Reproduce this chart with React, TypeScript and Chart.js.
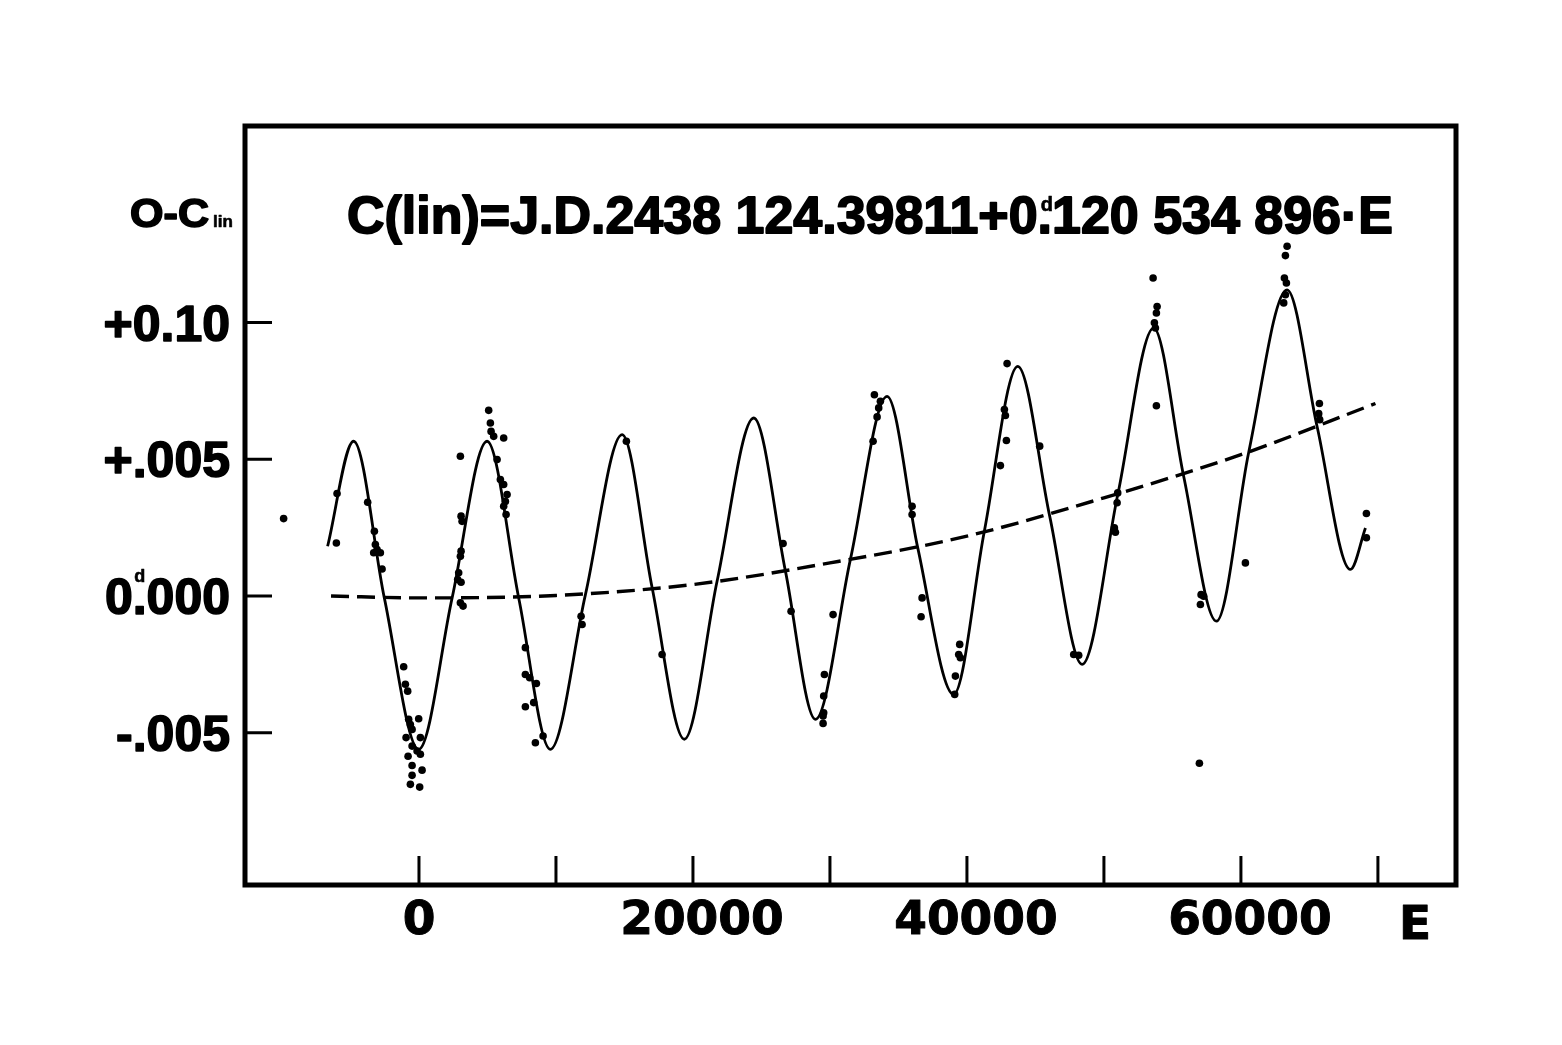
import { useEffect, useRef } from 'react';
import { Chart, registerables } from 'chart.js';

Chart.register(...registerables);

// ---- data ----
// fitted curve (solid): extrema and mean-line crossings
const fitE = [-6670, -4770, -2530, -20, 2420, 4970, 7280, 9590, 12150, 14830, 17020, 19370, 21760, 24440, 26750, 28940, 31490, 34170, 36410, 39030, 41270, 43710, 46040, 48410, 51010, 53630, 55820, 58210, 60570, 63370, 65560, 67990, 69090];
const fitOC = [0.00182, 0.00566, -0.00007, -0.00561, -0.00007, 0.00566, -0.00007, -0.00561, 0.00005, 0.0059, 0.0003, -0.00524, 0.00054, 0.00651, 0.00091, -0.00451, 0.00133, 0.0073, 0.00176, -0.0036, 0.00237, 0.0084, 0.00292, -0.0025, 0.00371, 0.0098, 0.00438, -0.00092, 0.00526, 0.0112, 0.0062, 0.00097, 0.00249];

// quadratic trend (dashed)
const trendE = [-6420, 0, 10000, 20000, 30000, 40000, 50000, 60000, 69820];
const trendOC = [0.0, -0.00007, 0.00002, 0.00042, 0.00121, 0.00219, 0.00359, 0.00517, 0.00704];

// observed O-C (dots)
const obsE = [-9880, -6030, -5980, -3745, -3256, -3183, -3059, -3307, -2818, -2694, -1117, -993, -825, -752, -628, -504, -22, -942, 102, -504, -139, 102, -796, -504, 226, -504, -628, 51, 3022, 3073, 3146, 3073, 3022, 2898, 2825, 3073, 3022, 3219, 5088, 5212, 5263, 5453, 6183, 5701, 5942, 6183, 6431, 6307, 6183, 6358, 7767, 7767, 8081, 8570, 8373, 7767, 9059, 8497, 11833, 11906, 15140, 17746, 26579, 27163, 30229, 29594, 29543, 29543, 29499, 29499, 33244, 33682, 33558, 33441, 33149, 35996, 35996, 36726, 36653, 39471, 39522, 39398, 39157, 39106, 42931, 42734, 42807, 42880, 42442, 45311, 47793, 48158, 53830, 51005, 50961, 50764, 50837, 53589, 53881, 53830, 53684, 53757, 63371, 63247, 63174, 63320, 63247, 63123, 65729, 65678, 65751, 57093, 57042, 57283, 60327, 69160, 69160, 56969];
const obsOC = [0.00283, 0.00194, 0.00375, 0.00343, 0.00237, 0.00188, 0.0017, 0.00158, 0.00158, 0.00099, -0.00259, -0.00323, -0.00348, -0.00451, -0.0047, -0.00488, -0.00449, -0.00518, -0.00518, -0.00549, -0.00567, -0.00579, -0.00586, -0.0062, -0.00637, -0.00656, -0.00689, -0.00699, 0.00511, 0.00292, 0.00273, 0.00164, 0.00145, 0.00085, 0.0006, 0.0005, -0.00025, -0.00037, 0.00679, 0.00633, 0.00602, 0.00584, 0.00578, 0.00499, 0.00426, 0.00408, 0.00371, 0.00346, 0.00328, 0.00298, -0.00189, -0.00287, -0.00299, -0.0032, -0.0039, -0.00405, -0.00512, -0.00537, -0.00074, -0.00104, 0.00566, -0.00214, 0.00192, -0.00056, -0.00068, -0.00287, -0.00366, -0.00427, -0.00439, -0.00466, 0.00736, 0.00712, 0.00688, 0.00655, 0.00566, 0.00328, 0.00298, -0.00007, -0.00076, -0.00177, -0.00226, -0.00214, -0.00293, -0.0036, 0.0085, 0.00682, 0.0066, 0.00569, 0.00477, 0.00548, -0.00214, -0.00217, 0.00696, 0.00377, 0.00341, 0.00249, 0.00233, 0.01163, 0.01059, 0.01035, 0.00999, 0.0098, 0.01279, 0.01245, 0.01163, 0.01145, 0.01102, 0.01072, 0.00704, 0.00667, 0.00645, 0.00005, -0.00031, -0.00001, 0.00121, 0.00302, 0.00213, -0.00612];

// axes
const xTickValues = [0, 10000, 20000, 30000, 40000, 50000, 60000, 70000];
const xLabeledValues = [0, 20000, 40000, 60000];
const yTickValues = [-0.005, 0, 0.005, 0.01];
const yTickLabels = ['-.005', '0.000', '+.005', '+0.10'];
const xAxisTitle = 'E';
const yAxisTitle = 'O-C';
const yAxisTitleSub = 'lin';
const titleBefore = 'C(lin)=J.D.2438 124.39811+0';
const titleAfter = '120 534 896·E';
const dayMark = 'd';

const toPoints = (xs: number[], ys: number[]) => xs.map((x, i) => ({ x, y: ys[i] }));

// heavy text: fill plus a thin outline to mimic the black print face
function heavyText(ctx: CanvasRenderingContext2D, s: string, x: number, y: number, w: number) {
  ctx.fillText(s, x, y);
  if (w > 0) {
    ctx.lineWidth = w;
    ctx.lineJoin = 'round';
    ctx.strokeText(s, x, y);
  }
}

const framePlugin = {
  id: 'frameAndText',
  afterDraw(chart: any) {
    const { ctx, chartArea: a, scales } = chart;
    const xs = scales.x;
    const ys = scales.y;
    ctx.save();
    ctx.strokeStyle = '#000';
    ctx.fillStyle = '#000';
    // frame
    ctx.lineWidth = 5;
    ctx.strokeRect(a.left, a.top, a.right - a.left, a.bottom - a.top);
    // inner tick marks
    ctx.lineWidth = 3;
    ctx.beginPath();
    for (const v of xTickValues) {
      const px = xs.getPixelForValue(v);
      ctx.moveTo(px, a.bottom);
      ctx.lineTo(px, a.bottom - 29);
    }
    for (const v of yTickValues) {
      const py = ys.getPixelForValue(v);
      ctx.moveTo(a.left, py);
      ctx.lineTo(a.left + 27, py);
    }
    ctx.stroke();

    // x tick labels
    ctx.font = 'bold 47px "DejaVu Sans"';
    ctx.textAlign = 'center';
    ctx.textBaseline = 'alphabetic';
    for (const v of xLabeledValues) {
      const s = String(v);
      const shift = s.length > 1 ? 9 : 0;
      heavyText(ctx, s, xs.getPixelForValue(v) + shift, a.bottom + 49, 1);
    }
    // x-axis title
    ctx.textAlign = 'left';
    heavyText(ctx, xAxisTitle, 1399, a.bottom + 54, 1);

    // y tick labels
    ctx.font = 'bold 50px "Liberation Sans"';
    ctx.textAlign = 'right';
    const labelRight = a.left - 15;
    yTickValues.forEach((v, i) => {
      heavyText(ctx, yTickLabels[i], labelRight, ys.getPixelForValue(v) + 18, 1.6);
    });
    // superscript "d" over the decimal point of 0.000
    const tailW = ctx.measureText('.000').width;
    const dotW = ctx.measureText('.').width;
    const p0 = ys.getPixelForValue(0);
    ctx.font = 'bold 18px "Liberation Sans"';
    ctx.textAlign = 'center';
    heavyText(ctx, dayMark, labelRight - tailW + dotW / 2, p0 - 14, 0.6);

    // y-axis title
    ctx.textAlign = 'left';
    ctx.font = 'bold 40px "Liberation Sans"';
    const ocW = ctx.measureText(yAxisTitle).width;
    ctx.save();
    ctx.translate(130, 227);
    ctx.scale(79 / ocW, 1);
    heavyText(ctx, yAxisTitle, 0, 0, 1.6);
    ctx.restore();
    ctx.font = 'bold 17px "Liberation Sans"';
    heavyText(ctx, yAxisTitleSub, 213, 227, 0.6);

    // ephemeris text inside the frame
    ctx.font = 'bold 52px "Liberation Sans"';
    const w1 = ctx.measureText(titleBefore).width;
    const wd = ctx.measureText('.').width;
    const w3 = ctx.measureText(titleAfter).width;
    const total = w1 + wd + w3;
    const sx = 1046 / total;
    ctx.save();
    ctx.translate(347, 233);
    ctx.scale(sx, 1);
    heavyText(ctx, titleBefore, 0, 0, 1.8);
    heavyText(ctx, '.', w1, 0, 1.8);
    heavyText(ctx, titleAfter, w1 + wd, 0, 1.8);
    ctx.font = 'bold 20px "Liberation Sans"';
    ctx.textAlign = 'center';
    heavyText(ctx, dayMark, w1 + wd / 2 + 2, -22, 0.6);
    ctx.restore();

    ctx.restore();
  },
};

export default function App() {
  const ref = useRef<HTMLCanvasElement | null>(null);

  useEffect(() => {
    const canvas = ref.current;
    if (!canvas) return;
    const chart = new Chart(canvas, {
      type: 'scatter',
      data: {
        datasets: [
          {
            label: 'fit',
            data: toPoints(fitE, fitOC),
            showLine: true,
            borderColor: '#000',
            borderWidth: 2.8,
            pointRadius: 0,
            cubicInterpolationMode: 'monotone',
            fill: false,
          },
          {
            label: 'trend',
            data: toPoints(trendE, trendOC),
            showLine: true,
            borderColor: '#000',
            borderWidth: 3.4,
            borderDash: [18, 8],
            pointRadius: 0,
            cubicInterpolationMode: 'monotone',
            fill: false,
          },
          {
            label: 'observed',
            data: toPoints(obsE, obsOC),
            showLine: false,
            pointRadius: 3.8,
            pointBorderWidth: 0,
            backgroundColor: '#000',
            borderColor: '#000',
          },
        ],
      },
      options: {
        responsive: false,
        animation: false,
        events: [],
        layout: { padding: { left: 0, top: 126, right: 106, bottom: 90 } },
        plugins: {
          legend: { display: false },
          tooltip: { enabled: false },
          title: { display: false },
        },
        scales: {
          x: {
            type: 'linear',
            min: -12700,
            max: 75700,
            grid: { display: false, drawTicks: false },
            border: { display: false },
            ticks: { display: false, stepSize: 10000 },
            afterFit: (s: any) => {
              s.height = 70;
            },
          },
          y: {
            type: 'linear',
            min: -0.010571,
            max: 0.017191,
            grid: { display: false, drawTicks: false },
            border: { display: false },
            ticks: { display: false, stepSize: 0.005 },
            afterFit: (s: any) => {
              s.width = 245;
            },
          },
        },
      },
      plugins: [framePlugin],
    });
    return () => chart.destroy();
  }, []);

  return (
    <div style={{ position: 'absolute', left: 0, top: 0, width: 1562, height: 1045, background: '#fff' }}>
      <canvas ref={ref} width={1562} height={1045} style={{ display: 'block' }} />
    </div>
  );
}
